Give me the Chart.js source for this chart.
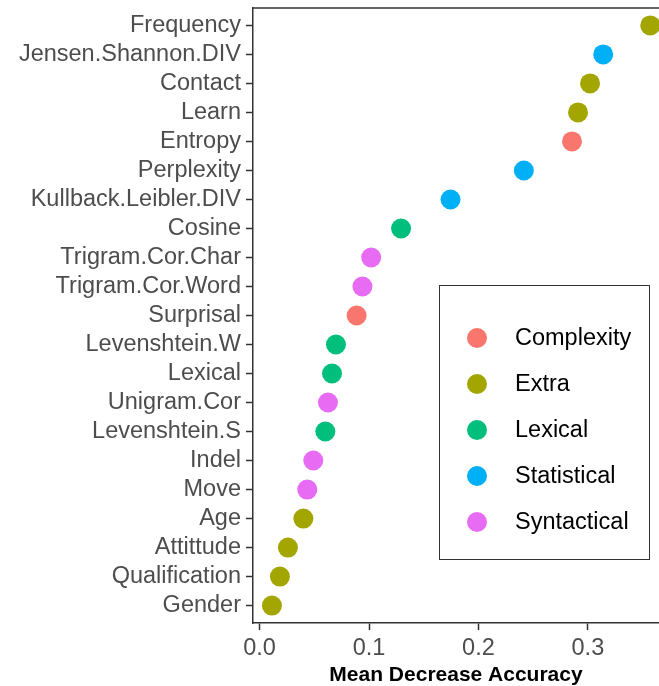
<!DOCTYPE html>
<html>
<head>
<meta charset="utf-8">
<script src="https://cdn.jsdelivr.net/npm/chart.js@4"></script>
<style>
  body { margin: 0; background: #fff; }
  #wrap { width: 659px; height: 686px; }
</style>
</head>
<body>
<div id="wrap"><canvas id="dotChart" width="659" height="686"></canvas></div>
<script>
// features listed top to bottom, as in the picture
var features = ['Frequency', 'Jensen.Shannon.DIV', 'Contact', 'Learn', 'Entropy', 'Perplexity',
  'Kullback.Leibler.DIV', 'Cosine', 'Trigram.Cor.Char', 'Trigram.Cor.Word', 'Surprisal',
  'Levenshtein.W', 'Lexical', 'Unigram.Cor', 'Levenshtein.S', 'Indel', 'Move', 'Age',
  'Attittude', 'Qualification', 'Gender'];
var accuracy = [0.357, 0.314, 0.302, 0.291, 0.2855, 0.2415, 0.1745, 0.1293, 0.102, 0.094,
  0.0887, 0.0698, 0.0662, 0.0625, 0.0601, 0.0491, 0.0436, 0.040, 0.0259, 0.0186, 0.0113];
var featureGroup = ['Extra', 'Statistical', 'Extra', 'Extra', 'Complexity', 'Statistical',
  'Statistical', 'Lexical', 'Syntactical', 'Syntactical', 'Complexity', 'Lexical', 'Lexical',
  'Syntactical', 'Lexical', 'Syntactical', 'Syntactical', 'Extra', 'Extra', 'Extra', 'Extra'];
var groups = ['Complexity', 'Extra', 'Lexical', 'Statistical', 'Syntactical'];
var groupColors = ['#F8766D', '#A3A500', '#00BF7D', '#00B0F6', '#E76BF3'];
var xTicks = [0.0, 0.1, 0.2, 0.3];

var n = features.length;
var fontName = '"Liberation Sans", Arial, sans-serif';

var datasets = groups.map(function(g, gi) {
  var pts = [];
  for (var i = 0; i < n; i++) {
    if (featureGroup[i] === g) pts.push({ x: accuracy[i], y: n - 1 - i });
  }
  return {
    label: g,
    data: pts,
    backgroundColor: groupColors[gi],
    borderWidth: 0,
    pointRadius: 10,
    pointHoverRadius: 10
  };
});

// top border of the panel + legend box drawn inside the plot
var panelExtras = {
  id: 'panelExtras',
  afterDraw: function(chart) {
    var c = chart.ctx, a = chart.chartArea;
    c.save();
    c.strokeStyle = '#333333';
    c.lineWidth = 1.5;
    c.beginPath();
    c.moveTo(a.left, a.top);
    c.lineTo(a.right, a.top);
    c.stroke();

    // legend
    c.lineWidth = 1;
    c.strokeStyle = '#333333';
    c.strokeRect(439.5, 285.5, 210, 274);
    c.font = '23.5px ' + fontName;
    c.textBaseline = 'middle';
    c.textAlign = 'left';
    groups.forEach(function(g, i) {
      var y = 338 + i * 46;
      c.fillStyle = groupColors[i];
      c.beginPath();
      c.arc(477, y, 10, 0, Math.PI * 2);
      c.fill();
      c.fillStyle = '#000000';
      c.fillText(g, 515, y + 1);
    });
    c.restore();
  }
};

new Chart(document.getElementById('dotChart').getContext('2d'), {
  type: 'scatter',
  data: { datasets: datasets },
  plugins: [panelExtras],
  options: {
    responsive: false,
    animation: false,
    layout: { autoPadding: false, padding: { top: 8, right: 0, left: 0, bottom: 0 } },
    plugins: { legend: { display: false }, tooltip: { enabled: false } },
    scales: {
      x: {
        type: 'linear',
        min: -0.006,
        max: 0.365,
        afterBuildTicks: function(s) { s.ticks = xTicks.map(function(v) { return { value: v }; }); },
        afterFit: function(s) { s.height = 63; s.paddingLeft = 0; s.paddingRight = 0; },
        border: { color: '#333333', width: 1.5 },
        grid: { drawOnChartArea: false, tickLength: 7, tickColor: '#333333', tickWidth: 1.5 },
        ticks: {
          color: '#4D4D4D',
          font: { family: fontName, size: 23.5 },
          padding: 4,
          maxRotation: 0,
          callback: function(v) { return v.toFixed(1); }
        },
        title: {
          display: true,
          text: 'Mean Decrease Accuracy',
          color: '#000000',
          font: { family: fontName, size: 21, weight: 'bold', lineHeight: 1 },
          padding: { top: 0, bottom: 0 }
        }
      },
      y: {
        type: 'linear',
        min: -0.6,
        max: n - 0.4,
        afterBuildTicks: function(s) { s.ticks = features.map(function(f, i) { return { value: i }; }); },
        afterFit: function(s) { s.width = 253; s.paddingTop = 0; s.paddingBottom = 0; },
        border: { color: '#333333', width: 1.5 },
        grid: { drawOnChartArea: false, tickLength: 7, tickColor: '#333333', tickWidth: 1.5 },
        ticks: {
          color: '#4D4D4D',
          font: { family: fontName, size: 23.5 },
          padding: 5,
          autoSkip: false,
          callback: function(v) { return features[n - 1 - Math.round(v)]; }
        }
      }
    }
  }
});
</script>
</body>
</html>
